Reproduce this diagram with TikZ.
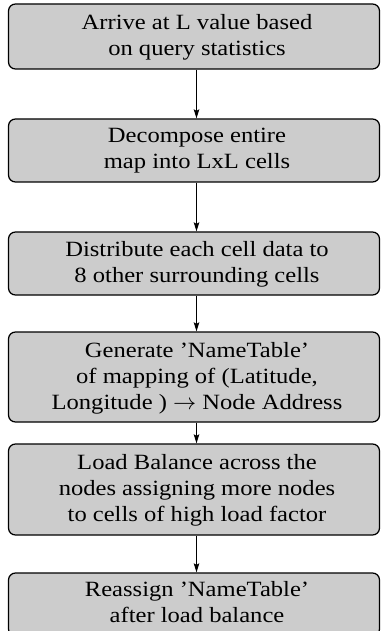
\documentclass[tikz,border=0pt]{standalone}
\usepackage{fontspec}
\setmainfont{Liberation Serif}[FakeStretch=1.13]
\usetikzlibrary{arrows.meta}

\newcommand{\stepfont}{\fontsize{8.7pt}{10.4pt}\selectfont}

\tikzset{
  stepbox/.style={draw=black, fill=gray!40, rounded corners=2.8pt,
    line width=0.5pt, inner sep=0pt, minimum width=148.4pt},
  steptext/.style={align=center, inner sep=0pt, font=\stepfont},
  flow/.style={line width=0.45pt, -{Stealth[length=3.6pt, width=2.2pt, inset=0.6pt]}}
}

\begin{document}
\begin{tikzpicture}[x=0.4pt, y=-0.4pt]
  \useasboundingbox (0,0) rectangle (381,631);

  % boxes of the flow
  \node[stepbox, minimum height=26pt]   (b1) at (194,36.5)  {};
  \node[stepbox, minimum height=25.2pt] (b2) at (194,150.5) {};
  \node[stepbox, minimum height=25.2pt] (b3) at (194,263.5) {};
  \node[stepbox, minimum height=36pt]   (b4) at (194,377)   {};
  \node[stepbox, minimum height=36.4pt] (b5) at (194,489.5) {};
  \node[stepbox, minimum height=25.2pt] (b6) at (194,604.5) {};

  % texts of the steps
  \node[steptext] (t1) at (197,37)    {Arrive at L value based\\on query statistics};
  \node[steptext] (t2) at (197,151)   {Decompose entire\\map into LxL cells};
  \node[steptext] (t3) at (197,264)   {Distribute each cell data to\\8 other surrounding cells};
  \node[steptext] (t4) at (197,378)   {Generate 'NameTable'\\of mapping of (Latitude,\\Longitude ) $\rightarrow$ Node Address};
  \node[steptext] (t5) at (197,490)   {Load Balance across the\\nodes assigning more nodes\\to cells of high load factor};
  \node[steptext] (t6) at (197,602)   {Reassign 'NameTable'\\after load balance};

  % connectors
  \coordinate (ax) at (196.5,0);
  \draw[flow] (b1.south -| ax) -- (b2.north -| ax);
  \draw[flow] (b2.south -| ax) -- (b3.north -| ax);
  \draw[flow] (b3.south -| ax) -- (b4.north -| ax);
  \draw[flow] (b4.south -| ax) -- (b5.north -| ax);
  \draw[flow] (b5.south -| ax) -- (b6.north -| ax);
\end{tikzpicture}
\end{document}
